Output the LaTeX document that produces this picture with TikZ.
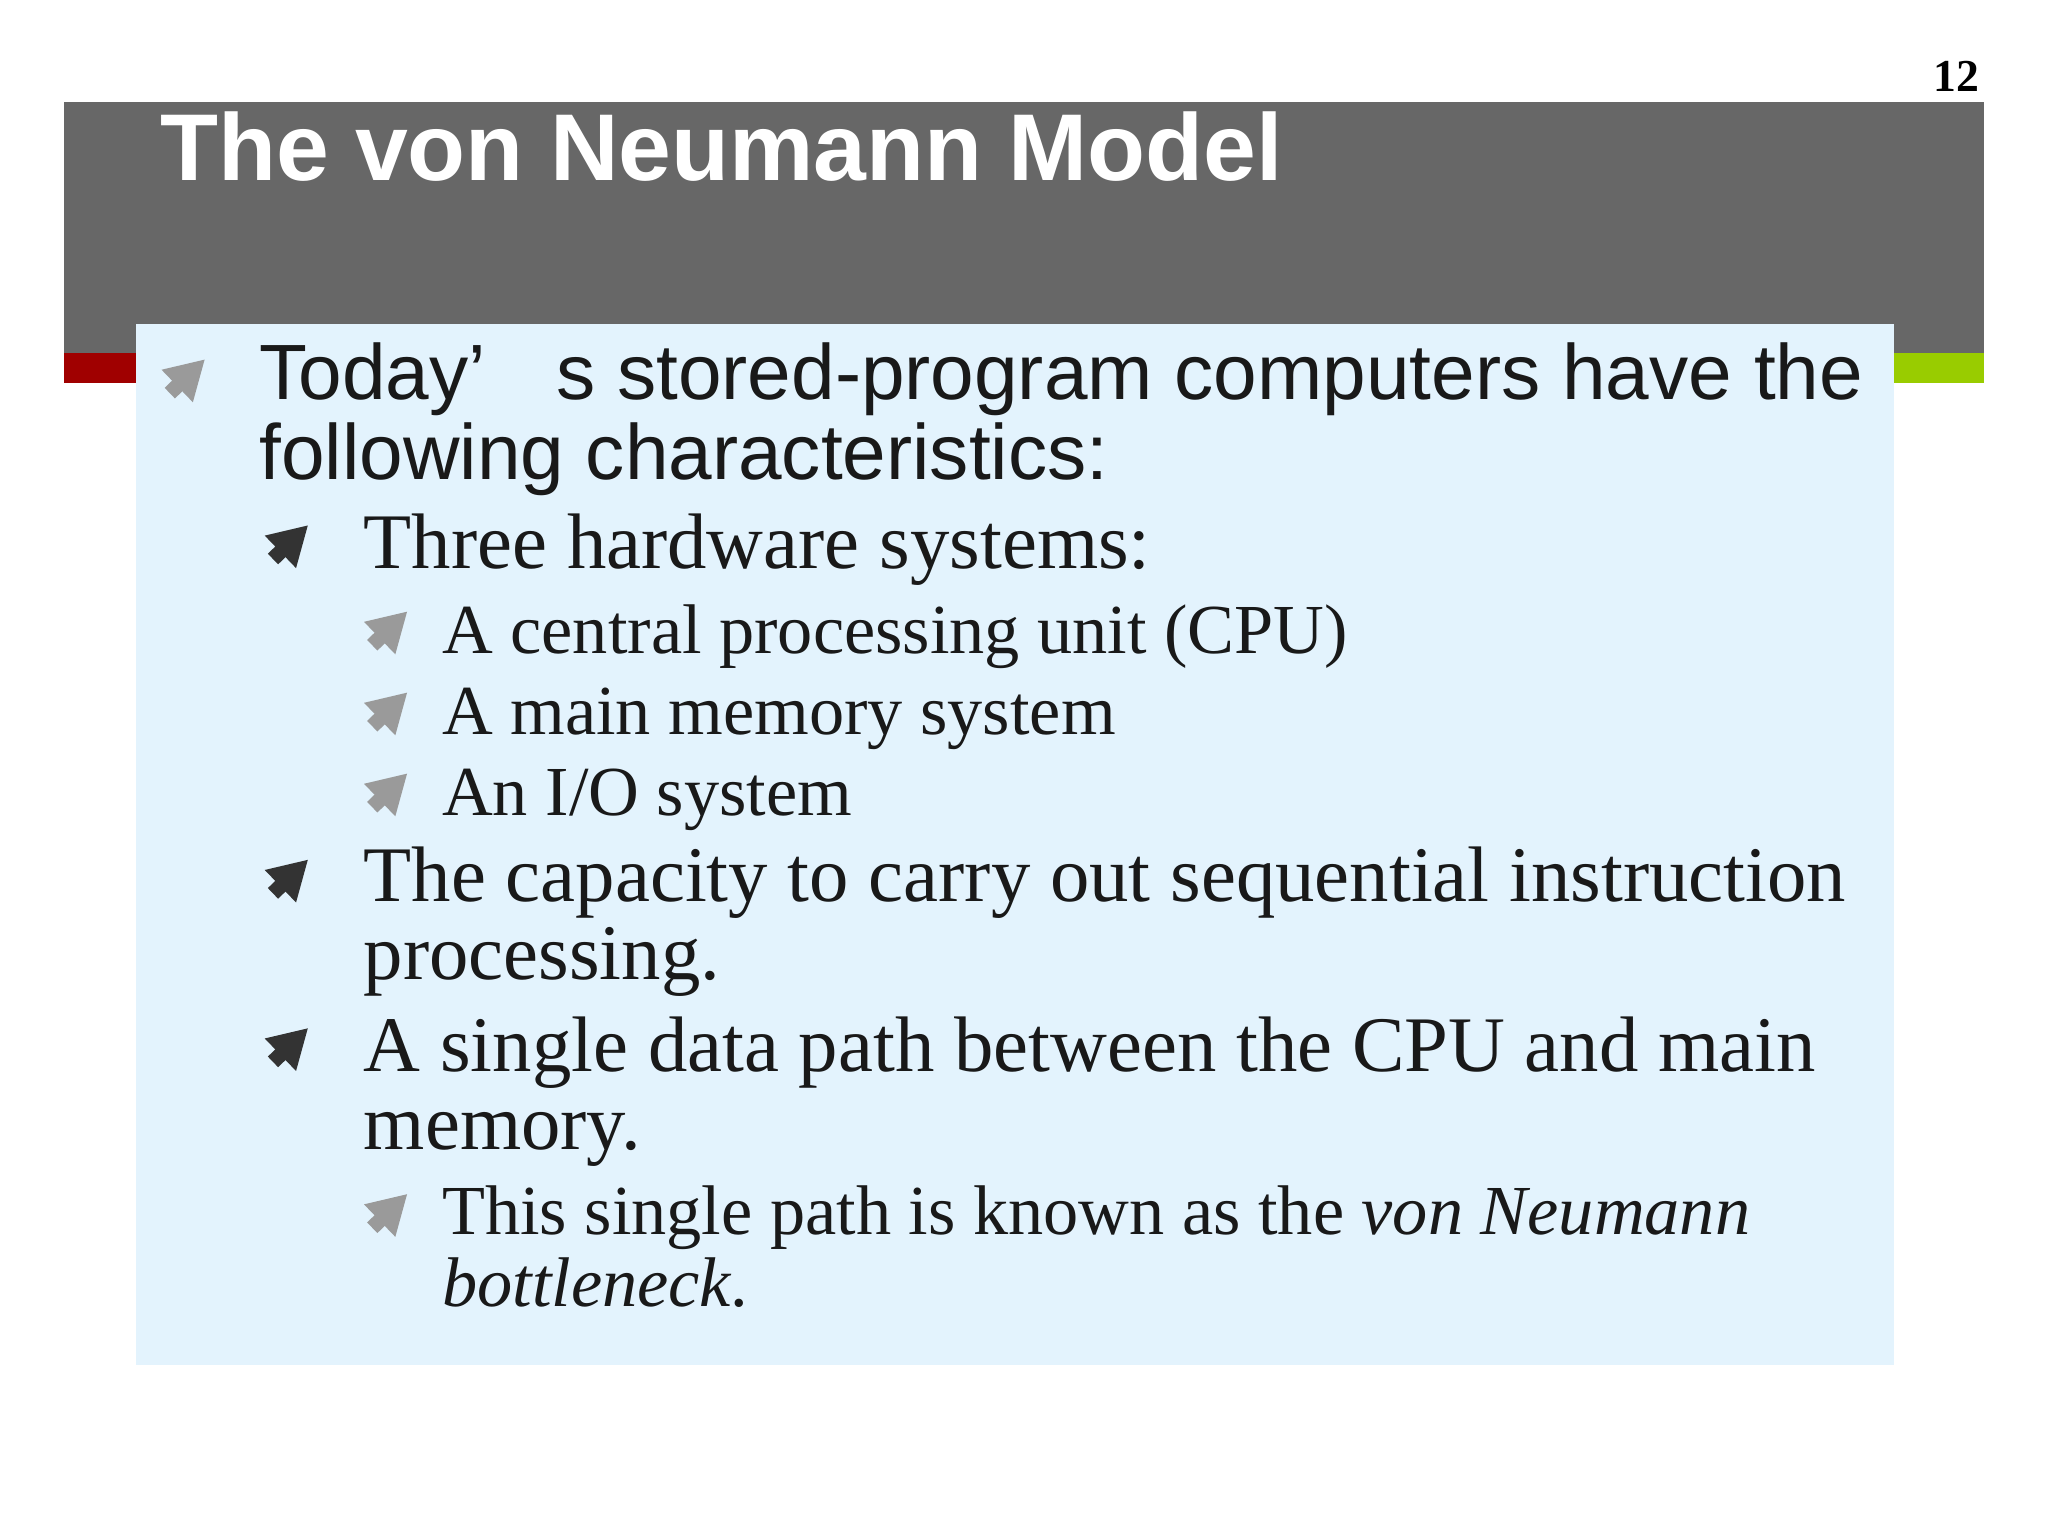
\documentclass[tikz,border=0pt]{standalone}
\usepackage{fontspec}
\setmainfont{Liberation Serif}
\setsansfont{Liberation Sans}
\usetikzlibrary{arrows.meta}
\definecolor{barg}{HTML}{676767}
\definecolor{boxb}{HTML}{E3F3FD}
\definecolor{redb}{HTML}{A00000}
\definecolor{grnb}{HTML}{99CC00}
\definecolor{bulA}{HTML}{9A9A9A}
\definecolor{bulB}{HTML}{333333}
\tikzset{
  bul/.style={line width=4.2pt,-{Triangle[length=11pt,width=12pt]},draw=#1},
  lone/.style={anchor=base west,inner sep=0pt,font=\sffamily\fontsize{22.3}{26}\selectfont,text=black!90},
  ltwo/.style={anchor=base west,inner sep=0pt,font=\fontsize{22.4}{26}\selectfont,text=black!90},
  lthree/.style={anchor=base west,inner sep=0pt,font=\fontsize{20}{24}\selectfont,text=black!90}
}
\newcommand{\mybul}[3]{\draw[bul=#3] (#1-13,#2+12) -- (#1+14,#2-14);}
\begin{document}
\begin{tikzpicture}[x=0.01306cm,y=-0.01306cm]
\useasboundingbox (0,0) rectangle (1568,1176);
\fill[white] (0,0) rectangle (1568,1176);
\fill[barg] (49,78) rectangle (1519,270);
\fill[redb] (49,270) rectangle (104,293);
\fill[grnb] (1450,270) rectangle (1519,293);
\fill[boxb] (104,248) rectangle (1450,1045);
\node[anchor=base east,inner sep=0pt,font=\bfseries\fontsize{13}{15}\selectfont] (pg) at (1516,70) {12};
\node[anchor=base west,inner sep=0pt,text=white,font=\sffamily\bfseries\fontsize{27}{30}\selectfont] (title) at (122,138) {The von Neumann Model};
\mybul{143}{289}{bulA}
\node[lone] (a1) at (198,306) {Today’\hspace{0.9em}s stored-program computers have the};
\node[lone] (a2) at (198,367) {following characteristics:};
\mybul{222}{416}{bulB}
\node[ltwo] (b1) at (278,435) {Three hardware systems:};
\mybul{298}{482}{bulA}
\node[lthree] (c1) at (338,500) {A central processing unit (CPU)};
\mybul{298}{544}{bulA}
\node[lthree] (c2) at (338,562) {A main memory system};
\mybul{298}{606}{bulA}
\node[lthree] (c3) at (338,624) {An I/O system};
\mybul{222}{672}{bulB}
\node[ltwo] (b2) at (278,690) {The capacity to carry out sequential instruction};
\node[ltwo] (b3) at (278,750) {processing.};
\mybul{222}{801}{bulB}
\node[ltwo] (b4) at (278,820) {A single data path between the CPU and main};
\node[ltwo] (b5) at (278,880) {memory.};
\mybul{298}{928}{bulA}
\node[lthree] (c4) at (338,945) {This single path is known as the \textit{von Neumann}};
\node[lthree] (c5) at (338,1000) {\textit{bottleneck}.};
\end{tikzpicture}
\end{document}
